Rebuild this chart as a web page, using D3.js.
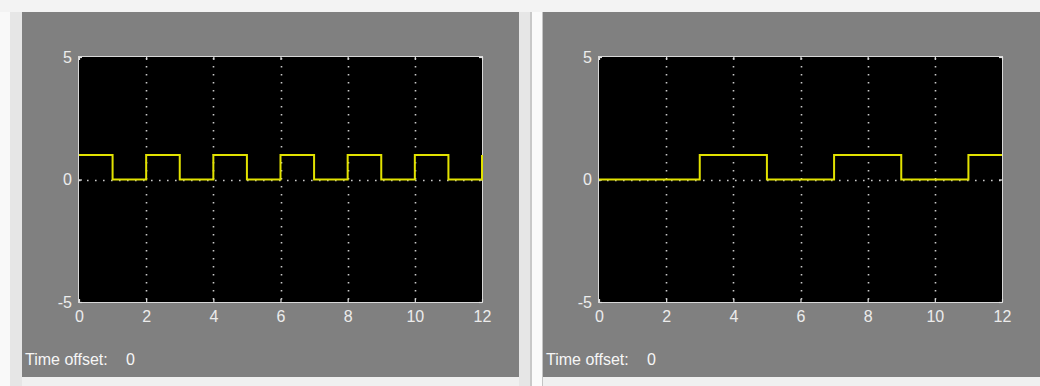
<!DOCTYPE html>
<html>
<head>
<meta charset="utf-8">
<script src="https://cdn.jsdelivr.net/npm/d3@7"></script>
<style>
  html, body { margin: 0; padding: 0; background: #f0f0f0; }
  svg { display: block; }
  text { font-family: "Liberation Sans", Arial, sans-serif; }
</style>
</head>
<body>
<svg id="chart" width="1040" height="386"></svg>
<script>
// Scope traces: pulse train (left) and delayed pulse (right)
const xTicks = [0, 2, 4, 6, 8, 10, 12];
const yTicks = [-5, 0, 5];
const xDomain = [0, 12];
const yDomain = [-5, 5];

const leftTimes  = [0, 1, 2, 3, 4, 5, 6, 7, 8, 9, 10, 11, 12];
const leftValues = [1, 0, 1, 0, 1, 0, 1, 0, 1, 0, 1, 0, 1];

const rightTimes  = [0, 3, 5, 7, 9, 11, 12];
const rightValues = [0, 1, 0, 1, 0, 1, 1];

const timeOffsetLabel = "Time offset:";
const timeOffsetValue = "0";

const svg = d3.select("#chart");

// window chrome around the two scope panels
svg.append("rect").attr("x", 0).attr("y", 0).attr("width", 1040).attr("height", 386).attr("fill", "#f0f0f0");
svg.append("rect").attr("x", 0).attr("y", 0).attr("width", 1040).attr("height", 12).attr("fill", "#f3f3f3");
svg.append("rect").attr("x", 0).attr("y", 12).attr("width", 10).attr("height", 374).attr("fill", "#f9f9f9");
svg.append("rect").attr("x", 10).attr("y", 12).attr("width", 12).attr("height", 374).attr("fill", "#e6e6e6");
svg.append("rect").attr("x", 519).attr("y", 12).attr("width", 11).attr("height", 374).attr("fill", "#e6e6e6");
svg.append("rect").attr("x", 530).attr("y", 12).attr("width", 2).attr("height", 374).attr("fill", "#c9c9c9");
svg.append("rect").attr("x", 532).attr("y", 12).attr("width", 10).attr("height", 374).attr("fill", "#fbfbfb");
svg.append("rect").attr("x", 542).attr("y", 12).attr("width", 1).attr("height", 374).attr("fill", "#c4c4c4");

const panels = [
  { px: 22, pw: 497, left: 79, right: 482, times: leftTimes, values: leftValues },
  { px: 543, pw: 497, left: 599, right: 1002, times: rightTimes, values: rightValues }
];

const plotTop = 57, plotBottom = 302;

panels.forEach(p => {
  const g = svg.append("g");

  // gray scope background
  g.append("rect").attr("x", p.px).attr("y", 12).attr("width", p.pw).attr("height", 365).attr("fill", "#808080");

  const x = d3.scaleLinear().domain(xDomain).range([p.left, p.right]);
  const y = d3.scaleLinear().domain(yDomain).range([plotBottom, plotTop]);

  // black plotting area
  g.append("rect")
    .attr("x", x(0)).attr("y", y(5))
    .attr("width", x(12) - x(0)).attr("height", y(-5) - y(5))
    .attr("fill", "#000");

  // dotted grid: verticals at interior x ticks, horizontal at zero
  g.append("g").selectAll("line")
    .data(xTicks.filter(t => t > xDomain[0] && t < xDomain[1]))
    .join("line")
    .attr("x1", d => Math.round(x(d)) + 0.5).attr("x2", d => Math.round(x(d)) + 0.5)
    .attr("y1", y(5) + 1).attr("y2", y(-5))
    .attr("stroke", "#c8c8c8").attr("stroke-width", 1.6)
    .attr("stroke-dasharray", "1.6,6.4");

  g.append("line")
    .attr("x1", x(0)).attr("x2", x(12))
    .attr("y1", Math.round(y(0)) + 0.5).attr("y2", Math.round(y(0)) + 0.5)
    .attr("stroke", "#c8c8c8").attr("stroke-width", 1.6)
    .attr("stroke-dasharray", "1.6,6.4");

  // frame
  g.append("rect")
    .attr("x", x(0) - 0.5).attr("y", y(5) - 0.5)
    .attr("width", x(12) - x(0) + 1).attr("height", y(-5) - y(5) + 1)
    .attr("fill", "none").attr("stroke", "#d8d8d8").attr("stroke-width", 1);

  // inward tick marks on all four sides
  const tickStyle = sel => {
    sel.select(".domain").remove();
    sel.selectAll("text").remove();
    sel.selectAll(".tick line").attr("stroke", "#e0e0e0").attr("stroke-width", 1.2);
  };
  g.append("g").attr("transform", `translate(0,${y(5)})`)
    .call(d3.axisTop(x).tickValues(xTicks).tickSize(-3)).call(tickStyle);
  g.append("g").attr("transform", `translate(0,${y(-5)})`)
    .call(d3.axisBottom(x).tickValues(xTicks).tickSize(-3)).call(tickStyle);
  g.append("g").attr("transform", `translate(${x(0)},0)`)
    .call(d3.axisLeft(y).tickValues(yTicks).tickSize(-3)).call(tickStyle);
  g.append("g").attr("transform", `translate(${x(12)},0)`)
    .call(d3.axisRight(y).tickValues(yTicks).tickSize(-3)).call(tickStyle);

  // tick labels
  const labelStyle = sel => {
    sel.select(".domain").remove();
    sel.selectAll(".tick line").remove();
    sel.selectAll("text")
      .attr("fill", "#ececec")
      .style("font-size", "16px")
      .style("font-family", "'Liberation Sans', Arial, sans-serif");
  };
  g.append("g").attr("transform", `translate(0,${y(-5)})`)
    .call(d3.axisBottom(x).tickValues(xTicks).tickSize(0).tickPadding(9).tickFormat(d3.format("d")))
    .call(labelStyle);
  g.append("g").attr("transform", `translate(${x(0)},0)`)
    .call(d3.axisLeft(y).tickValues(yTicks).tickSize(0).tickPadding(7).tickFormat(d => d < 0 ? "-" + Math.abs(d) : String(d)))
    .call(labelStyle);

  // signal trace
  const line = d3.line()
    .x((d, i) => x(p.times[i]))
    .y(d => y(d))
    .curve(d3.curveStepAfter);
  g.append("path")
    .datum(p.values)
    .attr("d", line)
    .attr("fill", "none")
    .attr("stroke", "#e2e200")
    .attr("stroke-width", 2);

  // time offset readout
  g.append("text")
    .attr("x", p.px + 3).attr("y", 365)
    .attr("fill", "#f6f6f6").style("font-size", "16px")
    .text(timeOffsetLabel);
  g.append("text")
    .attr("x", p.px + 104).attr("y", 365)
    .attr("fill", "#f6f6f6").style("font-size", "16px")
    .text(timeOffsetValue);
});
</script>
</body>
</html>
